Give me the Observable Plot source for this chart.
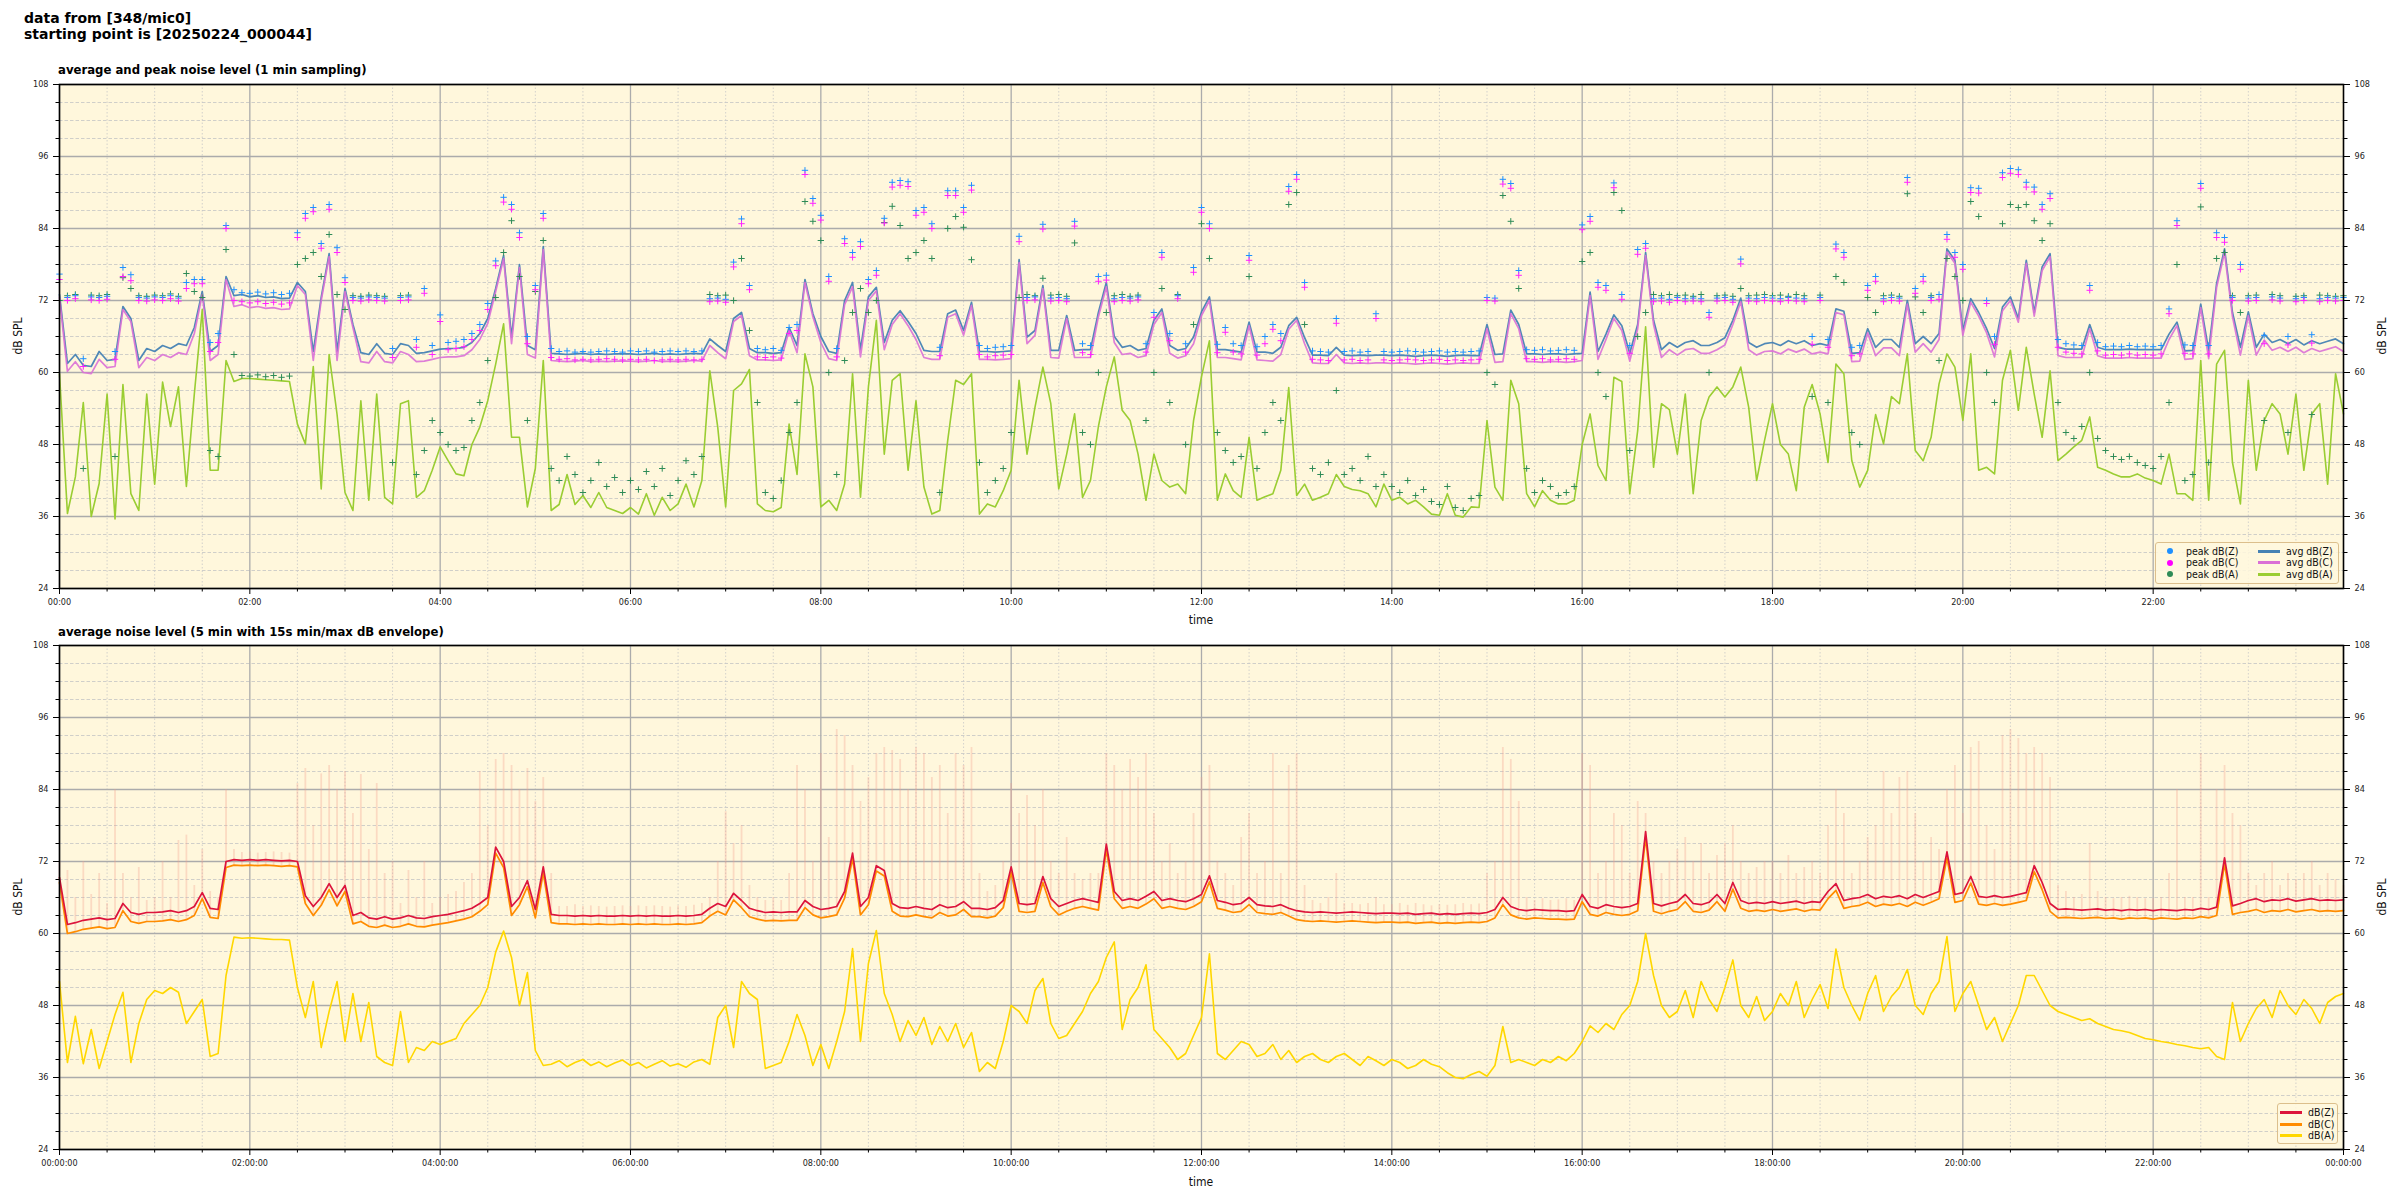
<!DOCTYPE html>
<html><head><meta charset="utf-8">
<script src="https://cdn.jsdelivr.net/npm/d3@7"></script>
<script src="https://cdn.jsdelivr.net/npm/@observablehq/plot@0.6"></script>
<style>
body{margin:0;background:#fff;width:2400px;height:1200px;position:relative;overflow:hidden;
 font-family:"DejaVu Sans Condensed","DejaVu Sans",sans-serif;font-stretch:condensed;color:#111;}
.abs{position:absolute;white-space:nowrap;}
.hdr{font-family:"DejaVu Sans",sans-serif;font-stretch:normal;font-weight:bold;font-size:14px;line-height:16px;left:24px;top:10px;color:#000;}
.ptitle{font-family:"DejaVu Sans",sans-serif;font-stretch:normal;font-weight:bold;font-size:11.7px;line-height:14px;left:58px;color:#000;}
.xl{font-size:12px;line-height:14px;width:200px;text-align:center;left:1101px;}
.yl{font-size:12px;line-height:14px;width:80px;text-align:center;transform:rotate(-90deg);}
.legend{position:absolute;background:rgba(255,248,222,0.85);border:1px solid #dcbf8c;border-radius:3px;box-sizing:border-box;font-size:10.5px;}
.li{position:absolute;white-space:nowrap;line-height:12px;}
.mk{position:absolute;width:6px;height:6px;border-radius:3px;}
.ln{position:absolute;height:3px;}
svg{position:absolute;left:0;}
</style></head><body>
<div class="abs hdr">data from [348/mic0]<br>starting point is [20250224_000044]</div>
<div class="abs ptitle" style="top:63px">average and peak noise level (1 min sampling)</div>
<div class="abs ptitle" style="top:625px">average noise level (5 min with 15s min/max dB envelope)</div>
<div id="p1"></div>
<div id="p2"></div>
<div class="abs xl" style="top:613px">time</div>
<div class="abs xl" style="top:1175px">time</div>
<div class="abs yl" style="left:-22px;top:329px">dB SPL</div>
<div class="abs yl" style="left:2342px;top:329px">dB SPL</div>
<div class="abs yl" style="left:-22px;top:890px">dB SPL</div>
<div class="abs yl" style="left:2342px;top:890px">dB SPL</div>
<script>
// ---------- tick values ----------
const yMajor = [24,36,48,60,72,84,96,108];
const yMinor = [27,30,33,39,42,45,51,54,57,63,66,69,75,78,81,87,90,93,99,102,105];
const xMajorTop = [0,120,240,360,480,600,720,840,960,1080,1200,1320];
const xMajorBottom = [0,120,240,360,480,600,720,840,960,1080,1200,1320,1440];
const xMinor = [30,60,90,150,180,210,270,300,330,390,420,450,510,540,570,630,660,690,750,780,810,870,900,930,990,1020,1050,1110,1140,1170,1230,1260,1290,1350,1380,1410];

// ---------- top panel: 1-min sampling, read every 5 min (00:00 .. 24:00) ----------
const avgZ = [73.0,61.5,63.0,61.2,61.0,63.5,62.0,62.2,71.0,69.0,62.0,64.0,
63.5,64.5,64.0,64.8,64.5,67.5,73.5,63.5,64.5,76.0,72.8,73.0,
72.6,72.8,72.5,72.6,72.3,72.4,75.0,73.5,63.5,72.5,79.8,63.5,
74.0,68.0,63.3,63.0,64.8,63.2,63.0,64.8,64.5,63.2,63.3,63.6,
63.9,64.0,64.0,64.2,65.0,66.5,69.0,74.0,79.5,65.9,78.0,64.5,
63.8,81.0,63.2,63.1,63.0,63.1,63.2,63.0,63.1,63.0,63.1,63.1,
63.1,63.0,63.1,63.2,63.0,63.1,63.0,63.1,63.2,63.1,65.6,64.5,
63.5,69.0,70.0,64.0,63.3,63.3,63.2,63.3,67.5,64.5,75.5,69.8,
66.0,63.5,63.2,72.0,75.0,63.8,72.6,74.2,65.0,68.7,70.3,68.5,
66.5,63.7,63.5,63.5,69.8,70.4,67.0,71.7,63.5,63.5,63.4,63.5,
63.6,78.8,65.9,67.0,74.5,63.7,63.7,69.5,63.7,63.8,63.8,70.0,
75.0,66.0,64.2,64.5,63.7,64.0,68.7,70.6,64.5,63.7,64.0,65.9,
70.1,72.6,63.8,63.8,63.6,63.4,68.4,63.4,63.4,63.2,64.2,67.8,
69.2,65.8,62.9,62.9,62.8,64.2,62.9,62.8,62.9,62.8,62.9,62.9,
62.8,62.9,62.8,62.7,62.8,62.9,62.8,62.7,62.8,62.9,62.8,62.8,
68.0,63.0,63.1,70.4,68.0,63.1,63.1,63.0,63.1,63.1,63.0,63.1,
63.2,73.4,63.5,66.4,69.6,67.8,63.2,68.0,80.0,68.7,63.8,65.0,
64.2,65.0,65.3,64.5,64.5,65.0,65.8,68.7,72.4,65.0,64.2,64.8,
65.0,64.5,65.3,64.8,65.3,64.5,64.8,64.5,70.6,70.2,63.2,63.3,
67.3,64.2,65.5,65.5,64.2,72.0,64.8,66.0,64.8,66.5,80.6,78.7,
67.0,72.3,70.0,67.3,64.0,70.9,72.6,69.0,78.7,70.0,77.6,79.8,
64.2,63.9,63.9,63.9,68.0,64.2,63.8,63.8,63.8,63.9,63.8,63.8,
63.8,63.8,66.4,68.4,63.6,63.7,71.4,63.7,74.8,80.6,70.0,64.2,
70.1,64.2,66.4,65.0,65.5,64.8,65.5,64.6,65.3,64.8,65.2,65.6,
64.8];
const avgC = [72.5,60.2,61.8,60.0,59.8,62.2,60.8,61.0,70.5,68.5,60.8,62.5,
62.0,63.0,62.5,63.3,63.0,66.5,73.0,62.0,63.0,75.5,71.0,71.3,
70.8,71.0,70.7,70.8,70.5,70.6,74.5,73.0,62.0,72.0,79.3,62.0,
73.5,67.5,61.8,61.6,63.5,61.8,61.6,63.5,63.0,61.8,61.9,62.2,
62.5,62.6,62.6,62.8,63.8,65.5,68.2,73.5,79.0,64.8,77.5,63.0,
62.4,80.5,62.0,61.9,61.8,61.9,62.0,61.8,61.9,61.8,61.9,61.9,
61.9,61.8,61.9,62.0,61.8,61.9,61.8,61.9,62.0,61.9,64.5,63.3,
62.3,68.5,69.5,62.8,62.1,62.1,62.0,62.1,67.0,63.3,75.0,69.3,
65.0,62.3,62.0,71.3,74.3,62.6,72.0,73.6,63.8,68.0,69.8,67.8,
65.5,62.5,62.2,62.2,69.2,69.8,66.2,71.2,62.2,62.2,62.1,62.2,
62.3,78.3,64.8,66.2,74.0,62.5,62.4,69.0,62.5,62.5,62.5,69.3,
74.3,65.0,63.0,63.2,62.5,62.8,68.0,70.0,63.2,62.4,62.8,64.8,
69.5,72.0,62.5,62.5,62.3,62.1,67.8,62.1,62.0,61.9,63.0,67.2,
68.7,64.8,61.6,61.5,61.5,63.0,61.6,61.5,61.6,61.5,61.6,61.6,
61.5,61.6,61.5,61.4,61.5,61.6,61.5,61.4,61.5,61.6,61.5,61.5,
67.3,61.7,61.8,69.8,67.3,61.8,61.8,61.7,61.8,61.8,61.7,61.8,
62.0,72.8,62.2,65.5,69.0,67.0,61.9,67.3,79.5,68.0,62.5,63.8,
62.9,63.8,64.0,63.2,63.2,63.8,64.6,68.0,71.8,63.8,62.9,63.5,
63.6,63.1,63.9,63.4,63.9,63.1,63.4,63.1,70.0,69.6,61.8,61.9,
66.6,62.8,64.1,64.1,62.8,71.4,63.4,64.8,63.4,65.5,80.1,78.2,
66.2,71.7,69.4,66.6,62.6,70.3,72.0,68.4,78.2,69.4,77.0,79.3,
62.8,62.5,62.5,62.5,67.3,62.8,62.4,62.4,62.4,62.5,62.4,62.4,
62.4,62.4,65.5,67.8,62.2,62.3,70.8,62.3,74.2,80.0,69.3,62.9,
69.5,62.9,65.4,63.7,64.2,63.5,64.2,63.3,64.0,63.5,63.9,64.3,
63.5];
const avgA = [59.8,36.5,42.6,55.0,36.0,41.5,56.4,35.6,58.0,39.8,37.0,56.4,
41.4,58.4,51.0,57.6,41.0,56.4,70.5,43.7,43.7,62.0,58.5,59.0,
59.0,58.9,58.8,58.7,58.6,58.5,51.4,48.1,61.0,40.6,63.0,53.0,
40.0,37.0,55.3,38.7,56.4,39.2,38.1,54.8,55.3,39.2,40.3,43.7,
47.6,45.3,43.1,42.8,48.0,50.9,55.3,61.4,68.1,49.2,49.2,37.6,
44.0,62.0,37.0,38.0,43.0,38.0,39.5,37.5,40.0,37.5,37.0,36.5,
37.5,36.4,39.8,36.2,39.2,37.0,38.1,41.4,37.6,42.0,60.3,50.9,
37.6,57.0,58.1,60.5,38.1,37.0,36.8,37.5,51.4,43.0,63.1,57.6,
37.6,38.7,37.0,41.4,59.8,39.2,57.6,68.7,46.4,58.7,59.8,43.7,
55.3,40.9,36.4,37.0,48.7,58.7,58.0,59.8,36.4,38.1,37.6,40.3,
43.7,58.7,46.4,54.2,60.9,54.8,40.6,46.4,53.1,39.2,42.0,51.0,
57.6,62.6,53.7,52.0,46.4,38.7,46.4,42.0,40.9,41.4,39.8,52.0,
59.3,65.3,38.7,43.1,40.3,39.2,49.2,38.7,39.3,39.8,43.7,57.5,
39.5,41.4,38.7,39.2,39.8,43.0,41.0,40.5,40.3,39.8,37.6,41.4,
38.7,39.2,38.1,38.7,37.6,36.4,36.2,39.8,36.2,35.9,37.6,37.5,
52.0,40.9,38.7,58.7,54.8,39.8,37.6,40.3,38.7,38.1,38.1,38.7,
48.0,53.1,44.5,42.0,59.2,58.5,39.8,50.3,67.6,44.2,54.8,53.8,
46.4,56.4,39.8,52.0,55.9,57.6,55.9,57.6,60.9,54.2,42.0,48.7,
54.8,48.0,46.4,40.3,54.2,58.0,53.1,45.0,61.4,59.8,45.3,40.9,
43.7,53.0,48.1,56.0,54.8,63.1,47.0,45.3,49.2,58.1,63.1,60.9,
52.0,63.1,43.7,44.2,43.1,58.7,63.7,53.7,64.2,56.4,49.2,60.3,
45.3,46.4,47.6,48.7,52.6,44.2,43.7,43.1,42.6,42.6,43.1,42.4,
42.0,41.4,46.4,39.8,39.8,38.7,62.0,38.7,61.4,63.7,45.0,38.1,
58.7,43.7,52.0,54.8,53.1,46.4,56.4,43.7,53.1,54.8,41.4,59.8,
53.1];
const peakZ = [76.4,72.5,72.8,62.3,72.6,72.5,72.7,63.5,77.5,76.3,72.5,72.4,
72.6,72.5,72.8,72.4,75.0,75.5,75.5,65.0,66.5,84.5,73.8,73.3,
73.2,73.4,73.1,73.3,73.0,73.2,83.3,86.5,87.5,81.5,88.0,80.8,
75.8,72.5,72.4,72.6,72.5,72.4,64.0,72.5,72.6,65.5,74.0,64.5,
69.6,65.0,65.2,65.5,66.5,68.0,71.5,78.6,89.2,88.0,83.3,66.0,
74.5,86.5,64.0,63.5,63.6,63.4,63.5,63.4,63.5,63.6,63.5,63.4,
63.6,63.5,63.6,63.4,63.5,63.6,63.5,63.6,63.5,63.6,72.3,72.4,
72.2,78.4,85.6,74.5,64.0,63.8,64.0,63.7,67.5,68.0,93.7,89.0,
86.2,76.0,64.0,82.3,80.0,81.8,75.5,77.0,85.7,91.7,92.0,91.8,
87.0,87.5,84.8,64.2,90.3,90.3,87.5,91.2,64.5,64.0,64.2,64.3,
64.5,82.7,72.5,72.6,84.7,72.4,72.5,72.3,85.2,64.8,64.5,76.0,
76.2,72.3,72.5,72.4,72.6,64.8,70.0,80.0,66.5,72.8,64.8,77.5,
87.5,84.8,64.7,67.5,64.8,64.5,79.5,64.3,66.0,68.0,66.5,91.0,
93.0,75.0,63.6,63.5,63.4,69.0,63.5,63.6,63.4,63.5,69.8,63.5,
63.4,63.5,63.6,63.5,63.4,63.5,63.6,63.4,63.5,63.4,63.5,63.6,
72.5,72.4,92.2,91.5,77.0,63.8,63.7,63.8,63.6,63.7,63.8,63.7,
84.6,86.0,75.0,74.5,91.6,73.0,64.5,80.5,81.5,72.3,72.4,72.2,
72.5,72.3,72.4,72.3,70.0,72.4,72.5,72.2,78.9,72.4,72.3,72.5,
72.4,72.3,72.5,72.4,72.3,66.0,72.5,65.5,81.4,80.0,64.2,64.5,
74.5,76.0,72.3,72.5,72.4,92.5,74.0,76.0,72.5,73.0,83.0,80.0,
78.0,90.8,90.7,72.0,66.0,93.3,94.0,93.8,91.7,90.9,88.0,89.8,
65.5,64.8,64.6,64.5,74.5,65.0,64.3,64.4,64.3,64.5,64.3,64.4,
64.3,64.5,70.6,85.3,64.6,64.5,91.5,64.5,83.3,82.5,72.5,78.0,
72.4,72.5,66.2,72.6,72.4,66.0,72.3,72.5,66.3,72.3,72.5,72.4,
72.5];
const peakC = [75.5,72.0,72.3,61.0,72.1,72.0,72.2,62.2,76.0,75.3,72.0,71.9,
72.1,72.0,72.3,71.9,74.0,74.8,74.8,63.5,65.0,84.0,72.0,71.8,
71.6,71.8,71.5,71.7,71.4,71.6,82.5,85.7,86.8,80.7,87.2,80.0,
75.0,72.0,71.9,72.1,72.0,71.9,62.5,72.0,72.1,64.2,73.2,63.0,
68.5,63.8,64.0,64.3,65.5,67.0,70.5,77.8,88.4,87.2,82.5,64.8,
73.8,85.7,62.5,62.2,62.3,62.1,62.2,62.1,62.2,62.3,62.2,62.1,
62.2,62.1,62.2,62.0,62.1,62.2,62.1,62.2,62.1,62.2,71.8,71.9,
71.7,77.6,84.8,73.8,62.6,62.5,62.6,62.4,66.5,67.0,93.0,88.2,
85.4,75.2,62.6,81.5,79.2,81.0,74.8,76.2,84.9,90.9,91.2,91.0,
86.2,86.7,84.0,62.8,89.5,89.5,86.7,90.4,63.0,62.6,62.8,62.9,
63.0,81.8,72.0,72.1,83.9,71.9,72.0,71.8,84.4,63.3,63.0,75.2,
75.4,71.8,72.0,71.9,72.1,63.4,69.2,79.2,65.3,72.3,63.4,76.7,
86.7,84.0,63.3,66.7,63.4,63.1,78.7,62.9,64.8,67.2,65.3,90.2,
92.2,74.2,62.2,62.1,62.0,68.2,62.1,62.2,62.0,62.1,69.0,62.1,
62.0,62.1,62.2,62.1,62.0,62.1,62.2,62.0,62.1,62.0,62.1,62.2,
72.0,71.9,91.4,90.7,76.2,62.3,62.2,62.3,62.1,62.2,62.3,62.2,
83.8,85.2,74.2,73.7,90.8,72.2,63.2,79.7,80.7,71.8,71.9,71.7,
72.0,71.8,71.9,71.8,69.2,71.9,72.0,71.7,78.1,71.9,71.8,72.0,
71.9,71.8,72.0,71.9,71.8,64.7,72.0,64.2,80.6,79.2,62.8,63.1,
73.7,75.2,71.8,72.0,71.9,91.7,73.2,75.2,72.0,72.2,82.2,79.2,
77.2,90.0,89.9,71.5,64.7,92.5,93.2,93.0,90.9,90.1,87.2,89.0,
64.2,63.4,63.2,63.1,73.7,63.6,62.9,63.0,62.9,63.1,62.9,63.0,
62.9,63.1,69.8,84.5,63.2,63.1,90.7,63.1,82.5,81.7,72.0,77.2,
71.9,72.0,64.8,72.1,71.9,64.6,71.8,72.0,64.9,71.8,72.0,71.9,
72.0];
const peakA = [72.0,72.8,73.0,44.0,72.9,72.8,73.0,46.0,75.8,74.0,72.8,72.7,
72.9,72.8,73.1,72.7,76.5,73.5,72.5,47.0,46.0,80.5,63.0,59.5,
59.4,59.6,59.3,59.5,59.2,59.4,78.0,79.0,80.0,76.0,83.0,73.0,
70.5,72.8,72.7,72.9,72.8,72.7,45.0,72.8,72.9,43.0,47.0,52.0,
50.0,48.0,47.0,47.5,52.0,55.0,62.0,72.5,80.0,85.3,76.0,52.0,
73.5,82.0,44.0,42.0,46.0,43.0,40.0,42.0,45.0,41.0,42.5,40.0,
42.0,40.5,43.5,41.0,44.0,39.5,42.0,45.3,43.0,46.0,73.0,72.8,
72.9,72.0,79.0,67.0,55.0,40.0,39.0,42.0,50.0,55.0,88.5,85.2,
82.0,60.0,43.0,62.0,70.0,74.0,70.0,72.0,85.0,87.7,84.5,79.0,
80.0,82.0,79.0,40.0,84.0,86.0,84.2,78.8,45.0,40.0,42.0,44.0,
50.0,72.5,73.0,72.8,75.7,72.9,73.0,72.7,81.6,50.0,48.0,60.0,
70.0,72.8,73.0,72.7,72.9,52.0,60.0,74.0,55.0,73.0,48.0,68.0,
84.8,79.0,50.0,47.0,45.0,46.0,76.0,44.0,50.0,55.0,52.0,88.0,
90.0,68.0,44.0,43.0,45.0,57.0,43.0,44.0,42.0,46.0,41.0,43.0,
41.0,40.0,42.0,39.5,40.5,38.5,38.0,41.0,37.5,37.0,39.0,39.5,
60.0,58.0,89.5,85.2,74.0,44.0,40.0,42.0,41.0,39.5,40.0,41.0,
78.5,80.0,60.0,56.0,90.0,87.0,47.0,66.0,70.0,73.0,72.8,73.0,
72.8,72.9,72.7,73.0,60.0,72.8,72.9,72.7,74.0,72.8,72.9,73.0,
72.8,72.9,72.7,73.0,72.8,56.0,72.9,55.0,76.0,75.0,50.0,48.0,
72.5,70.0,72.8,72.9,72.7,89.8,72.6,70.0,72.8,62.0,79.0,76.0,
72.0,88.5,86.0,60.0,55.0,84.8,88.0,87.5,88.0,85.3,82.0,84.8,
55.0,50.0,49.0,51.0,60.0,49.0,47.0,46.0,45.5,46.0,45.0,44.5,
44.0,46.0,55.0,78.0,42.0,43.0,87.6,45.0,79.0,80.0,72.8,70.0,
72.8,72.9,52.0,73.0,72.8,50.0,72.7,72.8,53.0,72.9,72.8,72.7,
72.8];

// ---------- bottom panel: 5-min averages + envelope top ----------
const lvlZ = [69.3,61.5,61.8,62.2,62.4,62.6,62.3,62.5,65.0,63.5,63.2,63.5,
63.5,63.6,63.8,63.5,63.8,64.5,66.8,64.2,64.0,72.0,72.3,72.2,
72.3,72.2,72.3,72.2,72.1,72.2,72.0,66.3,64.5,66.0,68.3,66.0,
68.0,63.0,63.5,62.6,62.4,62.8,62.4,62.6,63.0,62.6,62.5,62.8,
63.0,63.2,63.5,63.8,64.2,65.0,66.0,74.4,72.0,64.5,66.0,68.8,
64.0,71.1,63.2,63.0,63.0,62.9,63.0,62.9,63.0,62.9,62.9,63.0,
62.9,63.0,62.9,63.0,62.9,62.9,63.0,62.9,63.0,63.2,64.2,65.0,
64.5,66.7,65.5,64.2,63.8,63.5,63.6,63.5,63.6,63.6,65.5,64.5,
64.0,64.2,64.5,67.0,73.4,64.5,66.0,71.3,70.5,65.0,64.3,64.2,
64.5,64.2,64.0,64.8,64.3,64.5,65.3,64.2,64.2,64.0,64.3,65.5,
71.1,65.0,64.8,65.0,69.5,65.8,64.5,65.0,65.5,65.8,65.5,65.2,
74.9,67.0,65.5,65.8,65.5,66.2,67.0,65.5,65.8,65.5,65.3,65.8,
66.5,69.6,65.5,65.2,64.8,65.0,66.0,64.8,64.6,64.5,64.8,64.2,
63.8,63.6,63.5,63.6,63.5,63.4,63.5,63.6,63.5,63.4,63.3,63.4,
63.4,63.3,63.4,63.2,63.3,63.4,63.2,63.3,63.2,63.3,63.4,63.3,
63.5,64.0,66.0,64.5,64.0,63.8,64.0,63.9,63.8,63.8,63.7,63.8,
66.5,64.5,64.2,64.8,64.5,64.3,64.5,65.0,77.0,65.0,64.6,65.0,
65.3,66.5,65.0,64.8,65.2,66.5,65.0,68.5,65.5,65.0,65.2,65.0,
65.3,65.0,65.2,65.4,65.0,65.3,65.2,67.0,68.3,65.5,65.8,66.0,
66.5,65.8,66.2,66.0,66.3,65.8,66.5,66.0,66.5,67.0,73.6,66.5,
66.8,69.5,66.2,66.0,66.3,66.0,66.2,66.5,66.8,71.3,68.5,65.0,
64.0,64.1,64.0,63.9,64.0,64.1,63.9,64.0,63.8,64.0,63.9,64.0,
63.8,64.0,63.9,63.8,64.0,63.9,64.2,64.0,64.4,72.6,64.6,65.0,
65.5,65.8,65.3,65.6,65.5,65.8,65.4,65.6,65.8,65.5,65.6,65.5,
65.6];
const lvlC = [68.5,60.0,60.3,60.7,60.9,61.1,60.8,61.0,63.8,62.0,61.7,62.0,
62.0,62.1,62.3,62.0,62.3,63.0,65.8,62.7,62.5,71.0,71.4,71.3,
71.4,71.3,71.4,71.3,71.2,71.3,71.1,65.0,63.0,64.7,67.3,64.6,
67.0,61.6,62.0,61.2,61.0,61.4,61.0,61.2,61.6,61.2,61.1,61.4,
61.6,61.8,62.1,62.4,62.8,63.7,64.8,73.4,71.0,63.0,64.8,67.8,
62.6,70.1,61.8,61.6,61.6,61.5,61.6,61.5,61.6,61.5,61.5,61.6,
61.5,61.6,61.5,61.6,61.5,61.5,61.6,61.5,61.6,61.8,62.9,63.7,
63.1,65.6,64.3,62.8,62.4,62.1,62.2,62.1,62.2,62.2,64.3,63.1,
62.6,62.8,63.1,65.9,72.5,63.1,64.8,70.4,69.6,63.7,62.9,62.8,
63.1,62.8,62.6,63.5,62.9,63.1,64.0,62.8,62.8,62.6,62.9,64.3,
70.2,63.7,63.5,63.7,68.5,64.5,63.1,63.7,64.2,64.5,64.2,63.9,
74.0,65.8,64.2,64.5,64.2,64.9,65.8,64.2,64.5,64.2,64.0,64.5,
65.3,68.6,64.2,63.9,63.5,63.7,64.8,63.5,63.3,63.2,63.5,62.9,
62.3,62.1,62.0,62.1,62.0,61.9,62.0,62.1,62.0,61.9,61.8,61.9,
61.9,61.8,61.9,61.7,61.8,61.9,61.7,61.8,61.7,61.8,61.9,61.8,
62.0,62.6,64.8,63.1,62.6,62.4,62.6,62.5,62.4,62.4,62.3,62.4,
65.3,63.2,62.9,63.5,63.2,63.0,63.2,63.8,76.0,63.7,63.3,63.7,
64.0,65.3,63.7,63.5,63.9,65.3,63.7,67.4,64.2,63.7,63.9,63.7,
64.0,63.7,63.9,64.1,63.7,64.0,63.9,65.8,67.2,64.2,64.5,64.7,
65.2,64.5,64.9,64.7,65.0,64.5,65.2,64.7,65.2,65.8,72.6,65.2,
65.5,68.4,64.9,64.7,65.0,64.7,64.9,65.2,65.5,70.3,67.3,63.7,
62.6,62.7,62.6,62.5,62.6,62.7,62.5,62.6,62.4,62.6,62.5,62.6,
62.4,62.6,62.5,62.4,62.6,62.5,62.8,62.6,63.0,71.6,63.2,63.5,
63.7,64.0,63.5,63.8,63.7,64.0,63.6,63.8,64.0,63.7,63.8,63.7,
63.8];
const lvlA = [52.0,38.5,46.2,38.3,44.0,37.5,42.0,46.5,50.2,38.5,45.0,49.0,
50.5,50.0,51.0,50.2,45.0,47.0,49.0,39.5,40.0,53.0,59.4,59.2,
59.3,59.2,59.1,59.0,59.0,58.9,51.0,46.0,52.0,41.0,47.0,52.0,
42.0,50.0,42.0,48.5,39.5,38.5,38.0,47.0,38.5,41.0,40.5,42.0,
41.5,42.0,42.5,45.0,46.5,48.0,51.0,56.9,60.4,56.0,48.0,53.5,
40.5,38.0,38.2,38.8,37.8,38.5,39.0,38.0,38.6,37.8,38.4,38.9,
38.0,38.5,37.6,38.2,38.8,37.9,38.3,37.7,38.6,39.0,38.2,46.0,
48.0,41.0,52.0,50.0,49.0,37.5,38.0,38.5,42.0,46.5,43.0,38.0,
41.5,37.5,42.0,47.0,57.5,42.0,55.0,60.5,50.0,46.5,42.0,45.5,
43.0,46.0,41.5,44.5,42.0,45.0,41.0,43.5,37.0,38.5,37.5,42.0,
48.0,47.0,45.0,50.5,52.5,45.0,42.5,43.0,45.0,47.0,50.0,52.0,
56.0,58.6,44.0,49.0,51.0,54.8,44.0,42.5,41.0,39.0,40.0,43.0,
46.0,56.6,40.0,39.0,40.5,42.0,41.5,39.5,40.0,41.5,39.0,40.5,
38.5,39.5,40.0,39.0,38.5,39.5,40.0,39.0,38.0,39.5,38.8,38.0,
39.0,38.5,37.5,38.0,39.0,38.2,37.8,36.8,36.0,35.8,36.5,37.0,
36.2,38.0,44.5,38.5,39.0,38.5,38.0,39.0,38.5,39.5,38.8,40.0,
42.0,44.6,43.5,45.0,44.0,46.5,48.0,52.0,60.0,53.0,48.0,46.0,
47.0,50.5,46.0,52.0,49.0,47.0,51.0,55.6,48.0,46.0,49.5,45.5,
47.0,50.0,48.0,52.0,46.0,49.0,51.5,47.5,57.4,51.0,48.0,45.5,
50.0,53.0,47.0,49.5,51.0,54.0,48.0,46.5,50.0,52.0,59.5,47.0,
50.0,52.0,48.0,44.0,46.0,42.0,45.0,48.0,53.0,53.0,50.5,48.0,
47.0,46.5,46.0,45.5,45.8,45.0,44.5,44.0,43.8,43.5,43.0,42.5,
42.3,42.0,41.8,41.5,41.3,41.0,40.8,41.0,39.5,39.0,48.5,42.0,
45.0,47.5,49.0,46.0,50.5,48.0,46.5,49.0,47.5,45.0,48.5,49.5,
50.0];
const envMax = [72.0,70.5,66.0,72.0,66.5,70.0,65.0,84.0,70.0,66.0,71.0,65.5,
66.0,72.0,66.0,75.5,76.4,68.0,74.0,67.0,66.0,84.0,74.0,73.5,
73.6,73.4,73.5,73.6,73.5,73.4,85.0,87.5,78.0,86.6,88.0,84.0,
87.0,80.0,86.5,74.0,85.0,70.0,72.0,65.0,70.5,66.0,72.0,65.0,
66.0,66.5,67.0,68.5,70.0,87.0,78.0,89.0,90.0,88.0,84.0,87.5,
82.0,86.0,70.0,64.5,64.5,64.8,64.5,64.6,64.5,64.4,64.5,64.6,
64.5,64.6,64.5,64.6,64.5,64.4,64.6,64.5,64.7,65.0,66.0,72.0,
80.3,75.0,78.0,68.0,66.0,65.5,66.0,65.5,70.0,88.0,84.0,72.0,
90.0,76.0,94.0,93.0,88.0,82.0,86.0,90.0,91.0,90.5,89.0,84.0,
91.0,90.0,86.0,88.0,80.0,90.0,88.0,91.0,70.0,67.0,68.0,72.0,
85.0,80.0,83.0,78.0,84.0,72.0,70.0,76.0,70.0,69.0,70.0,70.0,
90.0,88.0,84.0,89.0,86.0,90.0,80.0,72.0,75.0,70.0,72.0,80.0,
86.0,88.0,72.0,70.0,68.0,76.0,80.0,70.0,72.0,90.0,70.0,88.0,
90.0,68.0,65.5,65.0,66.0,70.0,65.0,65.0,64.8,65.0,66.0,64.8,
64.8,65.0,64.7,65.0,64.8,64.6,64.8,64.7,64.8,65.0,64.8,64.9,
70.0,72.0,91.0,89.0,82.0,66.0,65.5,65.8,65.5,65.6,65.8,65.5,
90.0,88.0,70.0,72.0,80.0,78.0,70.0,82.0,80.0,72.0,70.0,72.0,
74.0,76.0,72.0,75.0,70.0,73.0,75.0,78.0,72.0,70.0,71.0,72.0,
72.0,70.0,73.0,70.0,71.0,72.0,70.0,78.0,84.0,80.0,70.0,72.0,
76.0,78.0,87.0,80.0,86.0,87.0,80.0,72.0,76.0,74.0,84.0,88.0,
80.0,91.0,92.0,78.0,74.0,93.0,94.0,92.5,90.0,91.0,90.0,86.0,
68.0,67.0,66.0,66.5,75.0,67.0,66.0,65.8,66.0,66.2,66.0,65.8,
65.8,66.0,70.0,84.0,66.0,66.0,90.0,66.0,84.0,88.0,80.0,78.0,
70.0,68.0,70.0,72.0,68.0,70.0,69.0,70.0,72.0,68.0,70.0,69.0,
68.0];

// ---------- build tables ----------
const topRows = avgZ.map((v, i) => ({t: i * 5, z: v, c: avgC[i], a: avgA[i], pz: peakZ[i], pc: peakC[i], pa: peakA[i]}));
const botRows = lvlZ.map((v, i) => ({t: i * 5, z: v, c: lvlC[i], a: lvlA[i], hi: envMax[i]}));

const pad = n => String(n).padStart(2, "0");
const fmtTop = t => pad(Math.floor(t / 60) % 24) + ":00";
const fmtBot = t => pad(Math.floor(t / 60) % 24) + ":00:00";

const FONT = '"DejaVu Sans Condensed","DejaVu Sans",sans-serif';

function frameMarks(xMajor, fmt) {
  return {
    under: [
      Plot.frame({fill: "#fff7dc", stroke: null}),
      Plot.ruleY(yMinor, {y: d => d, stroke: "#c4c4c4", strokeWidth: 0.8, strokeDasharray: "3.5,2"}),
      Plot.ruleX(xMinor, {x: d => d, stroke: "#c8c8c8", strokeWidth: 0.8, strokeDasharray: "1.5,2"}),
      Plot.ruleY(yMajor, {y: d => d, stroke: "#ababab", strokeWidth: 1.4}),
      Plot.ruleX(xMajor, {x: d => d, stroke: "#ababab", strokeWidth: 1.3})
    ],
    over: [
      Plot.axisY({ticks: yMajor, anchor: "left", tickSize: 6, tickPadding: 5, fontSize: 9, label: null, stroke: "#000", color: "#222"}),
      Plot.axisY({ticks: yMajor, anchor: "right", tickSize: 6, tickPadding: 5, fontSize: 9, label: null, stroke: "#000", color: "#222"}),
      Plot.axisY({ticks: yMinor, anchor: "left", tickSize: 3.5, tickFormat: () => "", label: null, stroke: "#000"}),
      Plot.axisY({ticks: yMinor, anchor: "right", tickSize: 3.5, tickFormat: () => "", label: null, stroke: "#000"}),
      Plot.axisX({ticks: xMajor, anchor: "bottom", tickSize: 6, tickPadding: 4, fontSize: 9, tickFormat: fmt, label: null, stroke: "#000", color: "#222"}),
      Plot.axisX({ticks: xMinor, anchor: "bottom", tickSize: 3.5, tickFormat: () => "", label: null, stroke: "#000"}),
      Plot.frame({stroke: "#000", strokeWidth: 1.6})
    ]
  };
}

const common = {
  width: 2400, height: 564,
  marginTop: 10, marginBottom: 50, marginLeft: 59, marginRight: 57,
  x: {domain: [0, 1440]},
  y: {domain: [24, 108]},
  style: {background: "transparent", fontFamily: FONT, fontStretch: "condensed", fontSize: "9px", color: "#222", overflow: "visible"}
};

const f1 = frameMarks(xMajorTop, fmtTop);
const p1 = Plot.plot({
  ...common,
  marks: [
    ...f1.under,
    Plot.line(topRows, {x: "t", y: "z", stroke: "#4682b4", strokeWidth: 1.7, strokeOpacity: 0.95}),
    Plot.line(topRows, {x: "t", y: "c", stroke: "#da70d6", strokeWidth: 1.7, strokeOpacity: 0.9}),
    Plot.line(topRows, {x: "t", y: "a", stroke: "#9acd32", strokeWidth: 1.6}),
    Plot.dot(topRows, {x: "t", y: "pa", symbol: "plus", r: 2.2, stroke: "#2e8b57", strokeWidth: 1}),
    Plot.dot(topRows, {x: "t", y: "pz", symbol: "plus", r: 2.2, stroke: "#1e90ff", strokeWidth: 1}),
    Plot.dot(topRows, {x: "t", y: "pc", symbol: "plus", r: 2.2, stroke: "#ff22ff", strokeWidth: 1}),
    ...f1.over
  ]
});
p1.style.top = "74px";
document.getElementById("p1").appendChild(p1);

const f2 = frameMarks(xMajorBottom, fmtBot);
const p2 = Plot.plot({
  ...common,
  marks: [
    ...f2.under,
    Plot.ruleX(botRows, {x: "t", y1: "c", y2: "hi", stroke: "#f4a08c", strokeOpacity: 0.32, strokeWidth: 1.8}),
    Plot.line(botRows, {x: "t", y: "a", stroke: "#ffd700", strokeWidth: 1.6}),
    Plot.line(botRows, {x: "t", y: "c", stroke: "#ff8c00", strokeWidth: 1.7}),
    Plot.line(botRows, {x: "t", y: "z", stroke: "#dc143c", strokeWidth: 1.7}),
    ...f2.over
  ]
});
p2.style.top = "635px";
document.getElementById("p2").appendChild(p2);

// ---------- legends ----------
function legend(left, top, w, h, items) {
  const box = document.createElement("div");
  box.className = "legend";
  Object.assign(box.style, {left: left + "px", top: top + "px", width: w + "px", height: h + "px"});
  for (const it of items) {
    const m = document.createElement("div");
    if (it.kind === "dot") {
      m.className = "mk";
      Object.assign(m.style, {left: it.mx + "px", top: (it.y - 3) + "px", background: it.color});
    } else {
      m.className = "ln";
      Object.assign(m.style, {left: it.mx + "px", top: (it.y - 1.5) + "px", width: "22px", background: it.color});
    }
    box.appendChild(m);
    const t = document.createElement("div");
    t.className = "li";
    t.textContent = it.label;
    Object.assign(t.style, {left: it.tx + "px", top: (it.y - 6.5) + "px"});
    box.appendChild(t);
  }
  document.body.appendChild(box);
}
legend(2155, 542, 184, 42, [
  {kind: "dot", color: "#1e90ff", label: "peak dB(Z)", mx: 11, tx: 30, y: 8},
  {kind: "dot", color: "#ff00ff", label: "peak dB(C)", mx: 11, tx: 30, y: 19.5},
  {kind: "dot", color: "#2e8b57", label: "peak dB(A)", mx: 11, tx: 30, y: 31},
  {kind: "line", color: "#4682b4", label: "avg dB(Z)", mx: 102, tx: 130, y: 8},
  {kind: "line", color: "#da70d6", label: "avg dB(C)", mx: 102, tx: 130, y: 19.5},
  {kind: "line", color: "#9acd32", label: "avg dB(A)", mx: 102, tx: 130, y: 31}
]);
legend(2277, 1103, 61, 41, [
  {kind: "line", color: "#dc143c", label: "dB(Z)", mx: 2, tx: 30, y: 8.5},
  {kind: "line", color: "#ff8c00", label: "dB(C)", mx: 2, tx: 30, y: 20},
  {kind: "line", color: "#ffd700", label: "dB(A)", mx: 2, tx: 30, y: 31.5}
]);
</script>
</body></html>
